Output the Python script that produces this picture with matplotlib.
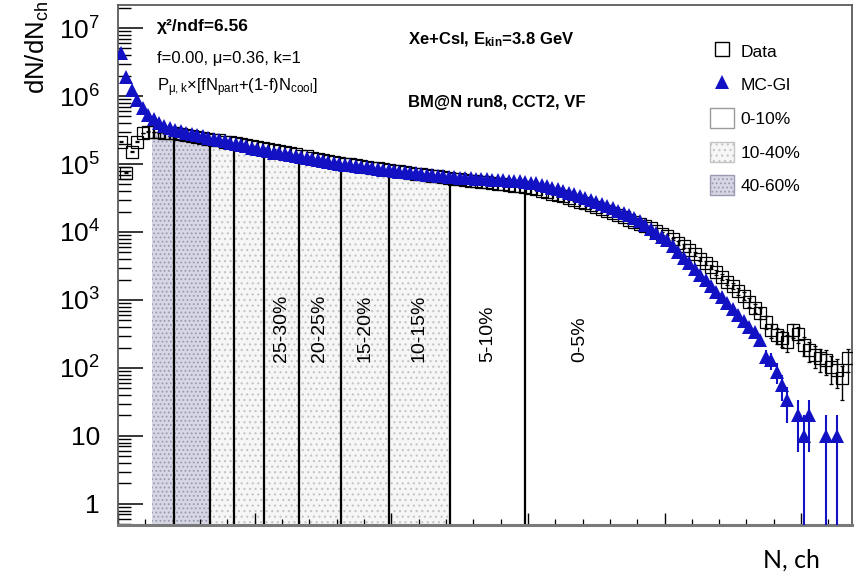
"""Multiplicity distribution with centrality classes (Xe+CsI, BM@N run8)."""

import numpy as np
import matplotlib

matplotlib.use("Agg")
import matplotlib.pyplot as plt
from matplotlib.lines import Line2D
from matplotlib.patches import Patch
from matplotlib.ticker import FixedLocator, FuncFormatter, LogLocator, MultipleLocator, NullFormatter

# one value per bin of N_ch
data_counts = [
    2.13e5, 7.4e4, 1.52e5, 2.13e5, 2.86e5, 2.99e5, 2.96e5, 2.93e5, 2.90e5, 2.87e5,
    2.83e5, 2.74e5, 2.66e5, 2.59e5, 2.51e5, 2.44e5, 2.36e5, 2.28e5, 2.22e5, 2.14e5,
    2.08e5, 2.02e5, 1.95e5, 1.90e5, 1.85e5, 1.80e5, 1.74e5, 1.68e5, 1.62e5, 1.56e5,
    1.50e5, 1.44e5, 1.38e5, 1.33e5, 1.29e5, 1.24e5, 1.20e5, 1.16e5, 1.12e5, 1.08e5,
    1.04e5, 1.01e5, 9.9e4, 9.6e4, 9.35e4, 9.1e4, 8.85e4, 8.6e4, 8.4e4, 8.2e4,
    8.0e4, 7.8e4, 7.6e4, 7.4e4, 7.2e4, 7.1e4, 6.9e4, 6.7e4, 6.6e4, 6.4e4,
    6.25e4, 6.1e4, 6.0e4, 5.8e4, 5.7e4, 5.6e4, 5.5e4, 5.35e4, 5.2e4, 5.1e4,
    5.0e4, 4.9e4, 4.8e4, 4.7e4, 4.6e4, 4.47e4, 4.26e4, 4.06e4, 3.86e4, 3.68e4,
    3.50e4, 3.34e4, 3.16e4, 2.98e4, 2.80e4, 2.63e4, 2.48e4, 2.33e4, 2.21e4, 2.05e4,
    1.90e4, 1.77e4, 1.64e4, 1.52e4, 1.41e4, 1.31e4, 1.22e4, 1.13e4, 1.04e4, 9.5e3,
    8.7e3, 7.9e3, 6.9e3, 6.2e3, 5.4e3, 4.75e3, 4.0e3, 3.5e3, 3.06e3, 2.58e3,
    2.18e3, 1.84e3, 1.61e3, 1.36e3, 1.15e3, 935, 762, 644, 475, 362,
    306, 276, 241, 362, 316, 218, 184, 155, 140, 131,
    104, 94, 71, 140,
]

mc_counts = [
    4.29e6, 1.92e6, 1.23e6, 8.7e5, 6.7e5, 5.3e5, 4.6e5, 4.0e5, 3.6e5, 3.4e5,
    3.16e5, 3.03e5, 2.90e5, 2.78e5, 2.67e5, 2.56e5, 2.45e5, 2.35e5, 2.25e5, 2.16e5,
    2.07e5, 1.98e5, 1.90e5, 1.82e5, 1.74e5, 1.67e5, 1.60e5, 1.53e5, 1.47e5, 1.43e5,
    1.38e5, 1.35e5, 1.31e5, 1.27e5, 1.23e5, 1.19e5, 1.15e5, 1.11e5, 1.08e5, 1.04e5,
    1.01e5, 9.8e4, 9.6e4, 9.35e4, 9.1e4, 8.9e4, 8.7e4, 8.5e4, 8.3e4, 8.1e4,
    7.9e4, 7.7e4, 7.6e4, 7.4e4, 7.3e4, 7.1e4, 7.0e4, 6.8e4, 6.7e4, 6.6e4,
    6.4e4, 6.4e4, 6.3e4, 6.2e4, 6.2e4, 6.1e4, 6.0e4, 5.96e4, 5.9e4, 5.8e4,
    5.75e4, 5.7e4, 5.6e4, 5.57e4, 5.5e4, 5.3e4, 5.2e4, 4.9e4, 4.7e4, 4.5e4,
    4.3e4, 4.0e4, 3.8e4, 3.6e4, 3.4e4, 3.16e4, 2.97e4, 2.79e4, 2.61e4, 2.41e4,
    2.23e4, 2.06e4, 1.91e4, 1.76e4, 1.63e4, 1.43e4, 1.26e4, 1.10e4, 9.7e3, 8.5e3,
    7.5e3, 6.2e3, 5.1e3, 4.15e3, 3.45e3, 2.86e3, 2.33e3, 1.97e3, 1.61e3, 1.31e3,
    1.09e3, 904, 738, 602, 491, 401, 339, 258, 145, 131,
    87, 56, 34, 0, 20, 10, 20, 0, 0, 10,
    0, 10, 0, 0,
]

# centrality cuts in N_ch (bin units), from peripheral to central
cut_positions = [6.3, 10.2, 16.9, 21.2, 26.8, 33.1, 40.8, 49.5, 60.7, 74.5]
cut_percents = [60, 50, 40, 35, 30, 25, 20, 15, 10, 5]
class_labels = ["25-30%", "20-25%", "15-20%", "10-15%", "5-10%", "0-5%"]

Y_MIN, Y_MAX = 0.49, 2.18e7
X_MAX = 134.3
MC_BLUE = "#1212c4"

plt.rcParams["font.family"] = ["Liberation Sans", "DejaVu Sans"]
plt.rcParams["mathtext.fontset"] = "custom"
plt.rcParams["mathtext.rm"] = "Liberation Sans"
plt.rcParams["mathtext.it"] = "Liberation Sans:italic"
plt.rcParams["mathtext.bf"] = "Liberation Sans:bold"
plt.rcParams["hatch.linewidth"] = 0.8


def fill_region(axis, x0, x1, counts, **style):
    """Fill the histogram between two cuts, following its steps."""
    edges = np.arange(len(counts) + 1)
    inner = edges[(edges > x0) & (edges < x1)]
    xs = np.concatenate([[x0], inner, [x1]])
    ys = counts[np.minimum(np.floor(xs).astype(int), len(counts) - 1)]
    axis.fill_between(xs, ys, Y_MIN, step="post", linewidth=0, **style)


def log_label(value, _pos):
    power = int(round(np.log10(value)))
    if power == 0:
        return "1"
    if power == 1:
        return "10"
    return rf"$\mathrm{{10^{{{power}}}}}$"


def main() -> None:
    data = np.array(data_counts, dtype=float)
    mc = np.array(mc_counts, dtype=float)
    centers = np.arange(len(data)) + 0.5
    cuts = dict(zip(cut_percents, cut_positions))

    fig = plt.figure(figsize=(8.66, 5.82), dpi=100)
    ax = fig.add_axes([0.1363, 0.0979, 0.8475, 0.8935])
    ax.set_yscale("log")
    ax.set_xlim(0, X_MAX)
    ax.set_ylim(Y_MIN, Y_MAX)

    dark_style = dict(facecolor="#d6d6e4", edgecolor="#9a9ab2", hatch="....")
    light_style = dict(facecolor="#f6f6f6", edgecolor="#c4c4c4", hatch="...")
    fill_region(ax, cuts[60], cuts[40], data, zorder=1, **dark_style)
    fill_region(ax, cuts[40], cuts[10], data, zorder=1, **light_style)

    for percent, cut in zip(cut_percents, cut_positions):
        if percent == 60:
            continue
        ax.vlines(cut, Y_MIN, data[int(cut)], color="black", linewidth=1.6, zorder=2)

    bounded = [cuts[p] for p in (30, 25, 20, 15, 10, 5)]
    label_x = [(a + b) / 2 for a, b in zip(bounded[:-1], bounded[1:])] + [cuts[5] + 10.0]
    for text, xpos in zip(class_labels, label_x):
        ax.text(xpos, 122, text, rotation=90, ha="center", va="bottom", fontsize=14, zorder=3)

    ax.errorbar(centers, data, yerr=np.sqrt(20 * data), fmt="s", mfc="none", mec="black",
                ms=8.5, mew=0.9, ecolor="black", elinewidth=1.0, capsize=1.5, zorder=4)
    has_mc = mc > 0
    ax.errorbar(centers[has_mc], mc[has_mc], yerr=np.sqrt(10 * mc[has_mc]), fmt="^",
                color=MC_BLUE, ms=9.5, mew=0, ecolor=MC_BLUE, elinewidth=1.5, capsize=2, zorder=5)

    ax.yaxis.set_major_locator(FixedLocator([10.0 ** k for k in range(0, 8)]))
    ax.yaxis.set_minor_locator(LogLocator(base=10, subs=np.arange(2, 10), numticks=20))
    ax.yaxis.set_major_formatter(FuncFormatter(log_label))
    ax.yaxis.set_minor_formatter(NullFormatter())
    ax.xaxis.set_major_locator(MultipleLocator(25))
    ax.xaxis.set_minor_locator(MultipleLocator(5))
    ax.xaxis.set_major_formatter(NullFormatter())

    ax.tick_params(axis="y", which="major", direction="in", length=18, width=1.1, labelsize=19, pad=13,
                   left=True, right=False)
    ax.tick_params(axis="y", which="minor", direction="in", length=9, width=1.0, left=True, right=False)
    ax.tick_params(axis="x", which="major", direction="in", length=8.5, width=1.0, top=False)
    ax.tick_params(axis="x", which="minor", direction="in", length=4.5, width=0.9, top=False)

    for spine in ax.spines.values():
        spine.set_color("#5a5a5a")
        spine.set_linewidth(1.3)
    ax.spines["bottom"].set_color("#7a7a7a")
    ax.spines["bottom"].set_linewidth(2.2)

    def fx(px):
        return px / 866

    def fy(py):
        return 1 - py / 582

    fig.text(fx(37), fy(1), r"dN/dN$_{\mathrm{ch}}$", rotation=90, ha="center", va="top", fontsize=18.5)
    fig.text(fx(791), fy(560), "N, ch", ha="center", va="center", fontsize=18,
             family=["Lato", "DejaVu Sans"])

    fig.text(fx(157), fy(27), "χ²/ndf=6.56", ha="left", va="center", fontsize=12.5, fontweight="bold")
    fig.text(fx(157), fy(58), "f=0.00, μ=0.36, k=1", ha="left", va="center", fontsize=12)
    fig.text(fx(157), fy(88), r"P$_{\mathrm{μ,k}}$×[fN$_{\mathrm{part}}$+(1-f)N$_{\mathrm{cool}}$]",
             ha="left", va="center", fontsize=12)
    fig.text(fx(408), fy(40), r"Xe+CsI, E$_{\mathbf{kin}}$=3.8 GeV", ha="left", va="center",
             fontsize=12, fontweight="bold")
    fig.text(fx(408), fy(103), "BM@N run8, CCT2, VF", ha="left", va="center", fontsize=12,
             fontweight="bold")

    handles = [
        Line2D([], [], marker="s", linestyle="none", mfc="none", mec="black", ms=10.5, mew=1.0),
        Line2D([], [], marker="^", linestyle="none", color=MC_BLUE, ms=9.5, mew=0),
        Patch(facecolor="white", edgecolor="#9a9a9a", linewidth=1.0),
        Patch(linewidth=1.0, **light_style),
        Patch(linewidth=1.0, **dark_style),
    ]
    labels = ["Data", "MC-Gl", "0-10%", "10-40%", "40-60%"]
    ax.legend(handles, labels, loc="upper left", bbox_to_anchor=(fx(710), fy(41)),
              bbox_transform=fig.transFigure, frameon=False, fontsize=12.5, handlelength=1.4,
              handleheight=1.4, handletextpad=0.35, labelspacing=0.78, borderpad=0,
              borderaxespad=0)

    fig.savefig("out.png", dpi=100)
    plt.close(fig)


if __name__ == "__main__":
    main()
